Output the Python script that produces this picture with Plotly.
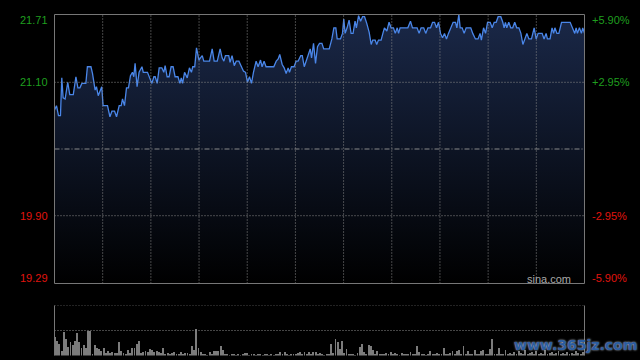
import plotly.graph_objects as go

# ---------------- data ----------------
prev_close = 20.50

minutes = [
    0, 0.9, 1.8, 2.7, 3.3, 3.9, 4.8, 6.0, 6.9, 8.5, 9.7, 10.6, 11.5, 12.4, 14.2, 14.9, 16.5, 17.2, 18.4, 19.0,
    19.8, 20.5, 21.4, 22.0, 24.0, 25.1, 26.0, 27.2, 28.1, 29.3, 30.2, 30.8, 31.7, 32.6, 33.5, 34.4, 35.3, 35.9,
    36.5, 37.4, 38.3, 39.6, 40.2, 42.1, 43.2, 44.1, 45.0, 45.6, 46.5, 47.4, 48.6, 49.5, 50.1, 51.0, 51.9, 52.8,
    53.7, 54.6, 55.9, 56.8, 57.4, 58.0, 58.9, 59.8,
    60.1, 61.1, 62.0, 62.6, 63.5, 64.3, 65.4, 66.1, 66.9, 67.6, 70.2, 71.4, 72.3, 73.7, 75.0, 75.9, 76.7, 77.4,
    78.9, 79.5, 80.4, 81.4, 82.3, 83.5, 84.7, 85.6, 86.5, 87.4, 88.3, 89.2, 90.1, 91.3, 92.2, 93.3, 94.0, 94.9,
    95.8, 99.3, 100.4, 101.3, 102.0, 103.1, 104.0, 104.9, 105.8, 106.4, 107.3, 108.5, 109.4, 110.3, 111.5, 112.2,
    113.1, 114.0, 114.9, 115.8, 116.4, 117.3, 118.2, 119.1, 120.0,
    121.1, 121.9, 122.9, 124.4, 125.6, 126.5, 127.4, 128.0, 129.5, 130.4, 131.0, 131.6, 132.5, 133.4, 134.3,
    135.2, 136.1, 136.7, 137.7, 138.6, 139.5, 140.4, 141.4, 142.5, 143.4, 144.1, 145.2, 145.9, 146.7, 147.9,
    148.7, 149.4, 150.5, 151.5, 152.4, 153.5, 154.3, 155.2, 155.8, 156.5, 160.0, 161.2, 162.1, 164.2, 165.1,
    166.0, 167.2, 168.1, 169.1, 170.3, 171.2, 172.1, 173.0, 173.9, 174.8, 175.7, 176.6, 177.5, 178.4, 179.3,
    180.5, 181.6, 182.2, 183.1, 183.7, 184.6, 185.5, 186.4, 188.5, 189.4, 190.6, 191.8, 192.7, 193.3, 194.3,
    195.2, 196.1, 197.3, 198.2, 199.1, 200.0, 200.9, 202.1, 203.0, 203.6, 204.2, 204.8, 205.7, 206.6, 207.5,
    208.4, 209.3, 210.3, 211.2, 212.1, 213.0, 213.9, 214.8, 216.0, 217.2, 218.1, 219.0, 220.8, 221.7, 222.6,
    223.2, 224.4, 225.3, 226.0, 226.6, 227.5, 228.4, 229.6, 233.5, 234.4, 235.6, 236.2, 236.8, 237.7, 238.6,
    239.2, 240.0,
]

prices = [
    20.85, 20.89, 20.80, 20.80, 21.14, 20.96, 20.95, 21.10, 20.99, 20.99, 21.15, 21.05, 21.05, 21.09, 21.09,
    21.24, 21.24, 21.18, 21.03, 21.06, 20.98, 21.01, 21.06, 20.89, 20.89, 20.79, 20.84, 20.84, 20.79, 20.89,
    20.89, 20.95, 20.89, 21.05, 21.05, 21.16, 21.19, 21.15, 21.27, 21.06, 21.19, 21.24, 21.19, 21.19, 21.14,
    21.09, 21.15, 21.15, 21.09, 21.23, 21.23, 21.19, 21.25, 21.15, 21.15, 21.24, 21.24, 21.15, 21.15, 21.09,
    21.14, 21.09, 21.19, 21.16,
    21.14, 21.23, 21.19, 21.24, 21.24, 21.41, 21.30, 21.32, 21.34, 21.29, 21.29, 21.40, 21.29, 21.29, 21.40,
    21.32, 21.29, 21.34, 21.34, 21.28, 21.34, 21.25, 21.29, 21.29, 21.24, 21.20, 21.19, 21.10, 21.15, 21.09,
    21.19, 21.29, 21.24, 21.30, 21.24, 21.29, 21.24, 21.24, 21.29, 21.31, 21.35, 21.26, 21.23, 21.18, 21.23,
    21.19, 21.24, 21.24, 21.29, 21.29, 21.34, 21.34, 21.24, 21.30, 21.36, 21.40, 21.32, 21.45, 21.27, 21.42,
    21.45,
    21.45, 21.40, 21.40, 21.40, 21.49, 21.59, 21.59, 21.49, 21.49, 21.54, 21.67, 21.54, 21.59, 21.66, 21.54,
    21.54, 21.65, 21.59, 21.70, 21.65, 21.69, 21.69, 21.63, 21.55, 21.44, 21.48, 21.48, 21.44, 21.48, 21.48,
    21.54, 21.59, 21.56, 21.64, 21.59, 21.59, 21.54, 21.59, 21.54, 21.59, 21.59, 21.65, 21.59, 21.59, 21.54,
    21.59, 21.59, 21.54, 21.59, 21.59, 21.64, 21.64, 21.59, 21.64, 21.54, 21.50, 21.54, 21.49, 21.54, 21.59,
    21.64, 21.64, 21.59, 21.71, 21.59, 21.59, 21.54, 21.59, 21.59, 21.54, 21.49, 21.49, 21.54, 21.48, 21.59,
    21.54, 21.64, 21.64, 21.59, 21.64, 21.64, 21.69, 21.69, 21.64, 21.59, 21.64, 21.59, 21.64, 21.59, 21.59,
    21.64, 21.59, 21.59, 21.54, 21.44, 21.49, 21.54, 21.49, 21.49, 21.59, 21.49, 21.54, 21.54, 21.49, 21.54,
    21.49, 21.49, 21.59, 21.54, 21.59, 21.54, 21.54, 21.64, 21.64, 21.59, 21.54, 21.59, 21.54, 21.59, 21.54,
    21.59, 21.54,
]

vol_minutes = list(range(241))
volumes = [
    19, 15, 12, 5, 24, 17, 9, 14, 11, 15, 23, 14, 8, 11, 8, 25, 25, 2, 11, 8,
    7, 5, 8, 3, 5, 3, 4, 3, 3, 14, 5, 3, 2, 6, 3, 8, 8, 12, 15, 3,
    4, 5, 4, 7, 6, 4, 5, 4, 3, 8, 2, 3, 2, 3, 4, 2, 2, 4, 2, 3,
    3, 2, 10, 6, 27, 8, 4, 2, 2, 1, 4, 2, 5, 5, 5, 10, 6, 2, 2, 1,
    2, 2, 1, 2, 1, 2, 3, 3, 1, 2, 2, 1, 2, 2, 1, 2, 2, 1, 2, 1,
    2, 2, 4, 2, 4, 2, 1, 2, 2, 2, 3, 4, 2, 4, 2, 4, 2, 4, 4, 2,
    3, 2, 1, 2, 2, 12, 3, 17, 14, 7, 15, 3, 7, 2, 2, 2, 1, 3, 9, 12,
    4, 2, 11, 10, 6, 2, 5, 2, 2, 2, 3, 2, 4, 2, 3, 2, 1, 3, 2, 2,
    2, 4, 2, 2, 10, 4, 2, 2, 1, 2, 5, 2, 2, 3, 2, 2, 8, 2, 2, 3,
    5, 2, 5, 6, 2, 10, 2, 5, 2, 2, 6, 2, 2, 5, 6, 2, 2, 7, 17, 2,
    2, 8, 2, 2, 6, 2, 3, 2, 4, 2, 5, 3, 2, 6, 2, 3, 4, 2, 5, 2,
    3, 2, 6, 2, 3, 4, 2, 3, 5, 2, 3, 2, 4, 2, 3, 2, 5, 3, 2, 4,
    8,
]

price_ticks = [21.71, 21.10, 19.90, 19.29]
pct_labels = ["+5.90%", "+2.95%", "-2.95%", "-5.90%"]

# ---------------- styling / layout ----------------
W, H = 640, 360
L, R = 54.5, 584.5
MT, MB = 14.5, 283.5
VT, VB = 305.5, 355.5
GREEN, RED = "#1f9e1f", "#e0140e"
GRID = "#8a8a8a"
BORDER = "#777777"
FONT = "Liberation Sans, Arial, sans-serif"

fig = go.Figure()
fig.add_trace(go.Scatter(
    x=minutes, y=prices, mode="lines",
    line=dict(color="#4a86e8", width=1.3),
    fill="tozeroy",
    fillgradient=dict(type="vertical",
                      colorscale=[[0, "#000000"], [1, "#1a2848"]],
                      start=price_ticks[-1], stop=price_ticks[0]),
    xaxis="x", yaxis="y", hoverinfo="skip", showlegend=False,
))
fig.add_trace(go.Bar(
    x=vol_minutes, y=volumes, width=0.4,
    marker=dict(color="#7c7c7c", line=dict(width=0)),
    xaxis="x2", yaxis="y2", hoverinfo="skip", showlegend=False,
))

ax = dict(showgrid=False, zeroline=False, showticklabels=False, showline=False,
          ticks="", fixedrange=True)
fig.update_layout(
    width=W, height=H,
    margin=dict(l=0, r=0, t=0, b=0, pad=0),
    paper_bgcolor="#000000", plot_bgcolor="#000000",
    showlegend=False, bargap=0,
    xaxis=dict(domain=[L / W, R / W], range=[0, 240], anchor="y", **ax),
    yaxis=dict(domain=[1 - MB / H, 1 - MT / H], range=[price_ticks[-1], price_ticks[0]], anchor="x", **ax),
    xaxis2=dict(domain=[L / W, R / W], range=[0, 240], anchor="y2", **ax),
    yaxis2=dict(domain=[1 - VB / H, 1 - VT / H], range=[0, 50], anchor="x2", **ax),
)

shapes = []
# vertical grid (11 divisions)
for k in range(1, 11):
    xv = 240 * k / 11
    shapes.append(dict(type="line", xref="x", yref="y domain", x0=xv, x1=xv, y0=0, y1=1,
                       line=dict(color=GRID, width=1, dash="1px,2px"), layer="above"))
# horizontal grid
for yv in (price_ticks[1], price_ticks[2]):
    shapes.append(dict(type="line", xref="x domain", yref="y", x0=0, x1=1, y0=yv, y1=yv,
                       line=dict(color=GRID, width=1, dash="1px,2px"), layer="above"))
shapes.append(dict(type="line", xref="x domain", yref="y", x0=0, x1=1, y0=prev_close, y1=prev_close,
                   line=dict(color=GRID, width=1, dash="5px,2px,1px,2px"), layer="above"))
# main border
shapes.append(dict(type="rect", xref="x domain", yref="y domain", x0=0, x1=1, y0=0, y1=1,
                   line=dict(color=BORDER, width=1), layer="above"))
# volume panel
for yv in (25, 50):
    shapes.append(dict(type="line", xref="x2 domain", yref="y2", x0=0, x1=1, y0=yv, y1=yv,
                       line=dict(color=GRID, width=1, dash="1px,2px"), layer="above"))
for xv in (0, 1):
    shapes.append(dict(type="line", xref="x2 domain", yref="y2 domain", x0=xv, x1=xv, y0=0, y1=1,
                       line=dict(color=BORDER, width=1), layer="above"))
fig.update_layout(shapes=shapes)

annotations = []
for i, (p, lab) in enumerate(zip(price_ticks, pct_labels)):
    col = GREEN if i < 2 else RED
    shift = -6 if i == 0 else (6 if i == 3 else 0)
    annotations.append(dict(xref="paper", yref="y", x=50 / W, y=p, yshift=shift, text=f"{p:.2f}",
                            showarrow=False, xanchor="right", yanchor="middle",
                            font=dict(family=FONT, size=11, color=col)))
    annotations.append(dict(xref="paper", yref="y", x=590 / W, y=p, yshift=shift, text=lab,
                            showarrow=False, xanchor="left", yanchor="middle",
                            font=dict(family=FONT, size=11, color=col)))
annotations.append(dict(xref="paper", yref="paper", x=573 / W, y=1 - 279 / H, text="sina.com",
                        showarrow=False, xanchor="right", yanchor="middle",
                        font=dict(family=FONT, size=11, color="#a8a8a8")))
annotations.append(dict(xref="paper", yref="paper", x=575 / W, y=1 - 345 / H, text="<b>www.365jz.com</b>",
                        showarrow=False, xanchor="center", yanchor="middle",
                        font=dict(family="DejaVu Sans, sans-serif", size=14, color="#2c5da0",
                                  shadow="0px 0px 2px #d0ddf0")))
fig.update_layout(annotations=annotations)

fig.write_html("out.html")
